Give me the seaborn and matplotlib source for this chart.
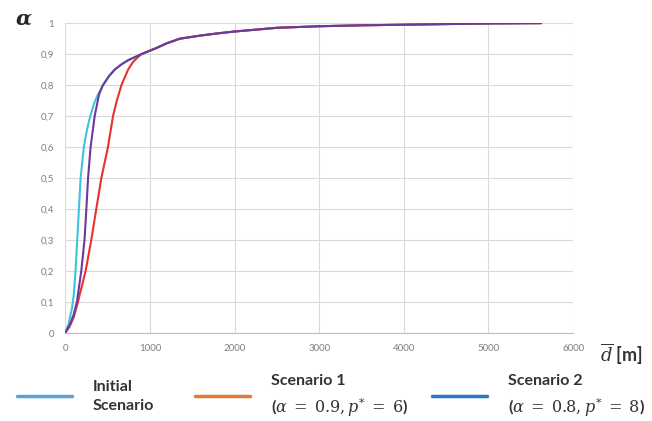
import numpy as np
import pandas as pd
import matplotlib
matplotlib.use("Agg")
import matplotlib.pyplot as plt
from matplotlib.lines import Line2D
import seaborn as sns

# shared upper part of the three curves (they coincide above ~0.9)
tail_d = [900, 1080, 1200, 1356, 1600, 1800, 2000, 2500, 3000, 3500, 4000, 4500, 5000, 5620]
tail_a = [0.9, 0.92, 0.935, 0.95, 0.96, 0.967, 0.973, 0.985, 0.99, 0.993, 0.995, 0.997, 0.999, 1.0]

init_d = [0, 40, 80, 100, 122, 142, 162, 182, 220, 260, 296, 340, 387, 446, 520, 585, 660, 740, 820]
init_a = [0, 0.03, 0.08, 0.12, 0.2, 0.3, 0.4, 0.5, 0.6, 0.66, 0.7, 0.74, 0.77, 0.8, 0.83, 0.85, 0.866, 0.88, 0.89]

sc1_d = [0, 50, 100, 150, 241, 308, 367, 427, 505, 565, 610, 664, 743, 802, 850]
sc1_a = [0, 0.02, 0.05, 0.1, 0.2, 0.3, 0.4, 0.5, 0.6, 0.7, 0.75, 0.8, 0.85, 0.875, 0.888]

sc2_d = [0, 60, 100, 138, 190, 228, 250, 270, 300, 348, 400, 446, 520, 585, 660, 740, 820]
sc2_a = [0, 0.03, 0.06, 0.1, 0.2, 0.3, 0.4, 0.5, 0.6, 0.7, 0.77, 0.8, 0.83, 0.85, 0.866, 0.88, 0.89]

labels = ["Initial\nScenario",
          "Scenario 1\n($\\alpha\\;=\\;0.9,p^{*}\\;=\\;6$)",
          "Scenario 2\n($\\alpha\\;=\\;0.8,p^{*}\\;=\\;8$)"]
line_colors = ["#3cc3df", "#e8322e", "#6b3a9c"]
legend_colors = ["#5ba3dd", "#e07b39", "#2a78c8"]

frames = []
for name, d, a in zip(labels, [init_d, sc1_d, sc2_d], [init_a, sc1_a, sc2_a]):
    frames.append(pd.DataFrame({"d": d + tail_d, "alpha": a + tail_a, "scenario": name}))
df = pd.concat(frames, ignore_index=True)

sns.set_style("white")
plt.rcParams["font.family"] = ["Lato", "DejaVu Sans"]
plt.rcParams["mathtext.fontset"] = "dejavuserif"

fig = plt.figure(figsize=(6.52, 4.21), dpi=100)
ax = fig.add_axes([0.1, 0.209, 0.779, 0.736])

sns.lineplot(data=df, x="d", y="alpha", hue="scenario", palette=line_colors,
             hue_order=labels, linewidth=1.5, legend=False, ax=ax, sort=False)

ax.set_xlim(0, 6000)
ax.set_ylim(0, 1)
ax.set_xticks(np.arange(0, 6001, 1000))
ax.set_yticks(np.arange(0, 1.01, 0.1))
ax.set_yticklabels(["0"] + [f"0,{i}" for i in range(1, 10)] + ["1"])
ax.grid(True, color="#dadada", linewidth=0.8)
ax.tick_params(axis="both", length=0, labelsize=7, labelcolor="#7f7f7f", pad=8)
for side in ["left", "top", "right"]:
    ax.spines[side].set_visible(False)
ax.spines["bottom"].set_color("#bfbfbf")
ax.set_xlabel("")
ax.set_ylabel("")

fig.text(0.023, 0.955, "$\\boldsymbol{\\alpha}$", fontsize=15, ha="left", va="center")
fig.text(0.92, 0.158, "$\\overline{d}$ [m]", fontsize=13, fontweight="bold",
         ha="left", va="center", color="#333333")

# one legend per entry so each sits where it does in the original
legend_x = [17 / 652, 195 / 652, 432 / 652]
for c, lab, x in zip(legend_colors, labels, legend_x):
    leg = fig.legend([Line2D([0], [0], color=c, linewidth=2.5)], [lab],
                     loc="center left", bbox_to_anchor=(x, 0.058), frameon=False,
                     borderpad=0, borderaxespad=0, handlelength=3.45, handletextpad=1.3,
                     prop={"size": 11.5, "weight": "bold"}, labelcolor="#333333")
    for t in leg.get_texts():
        t.set_linespacing(1.4)

fig.savefig("out.png", dpi=100)
